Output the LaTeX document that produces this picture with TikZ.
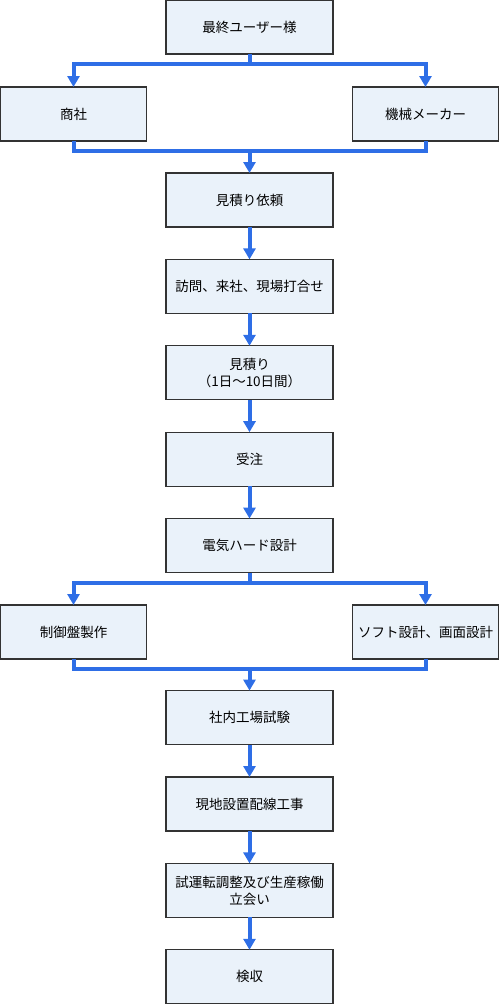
\documentclass[tikz,border=0pt]{standalone}
\usepackage{fontspec}
\newfontfamily\jpfont{Noto Sans CJK JP}
\usetikzlibrary{positioning,arrows.meta,calc}
\definecolor{boxfill}{RGB}{234,242,250}
\definecolor{flowblue}{RGB}{46,110,230}

\begin{document}
\begin{tikzpicture}[x=1pt,y=1pt,
    node distance=32.4pt,
    step box/.style={rectangle, minimum width=167pt, minimum height=54pt, outer sep=0pt, text centered, align=center, draw=black!80, line width=1.2pt, fill=boxfill, font=\jpfont\fontsize{13.5}{17}\selectfont},
    side box/.style={step box, minimum width=146pt},
    link/.style={draw=flowblue, line width=4pt},
    flow/.style={link, -{Triangle[width=12pt,length=11pt]}}]
    \useasboundingbox (0,0) rectangle (500,-1004);
    % top part
    \node (user) [step box] at (249.5,-27) {最終ユーザー様};
    \node (trader) [side box] at (73.5,-114) {商社};
    \node (maker) [side box] at (425.5,-114) {機械メーカー};
    \node (request) [step box] at (249.5,-200) {見積り依頼};
    \node (visit) [step box, below =of request] {訪問、来社、現場打合せ};
    \node (estimate) [step box, below =of visit] {見積り\\（1日～10日間）};
    \node (order) [step box, below =of estimate] {受注};
    \node (hardware) [step box, below =of order] {電気ハード設計};
    % parallel work
    \node (panel) [side box] at (73.5,-632) {制御盤製作};
    \node (software) [side box] at (425.5,-632) {ソフト設計、画面設計};
    \node (factorytest) [step box, below =118pt of hardware] {社内工場試験};
    \node (wiring) [step box, below =of factorytest] {現地設置配線工事};
    \node (trialrun) [step box, below =of wiring] {試運転調整及び生産稼働\\立会い};
    \node (acceptance) [step box, below =of trialrun] {検収};

    \coordinate (split1) at ($(user.south)+(0,-10)$);
    \coordinate (merge1) at ($(trader.south)+(176,-10)$);
    \coordinate (split2) at ($(hardware.south)+(0,-10)$);
    \coordinate (merge2) at ($(panel.south)+(176,-10)$);

    \draw [link] (user.south) -- (split1);
    \draw [flow] (split1) -| (trader.north);
    \draw [flow] (split1) -| (maker.north);
    \draw [link] (trader.south) |- (merge1) -| (maker.south);
    \draw [flow] (merge1) -- (request.north);
    \draw [flow] (request.south) -- (visit.north);
    \draw [flow] (visit.south) -- (estimate.north);
    \draw [flow] (estimate.south) -- (order.north);
    \draw [flow] (order.south) -- (hardware.north);
    \draw [link] (hardware.south) -- (split2);
    \draw [flow] (split2) -| (panel.north);
    \draw [flow] (split2) -| (software.north);
    \draw [link] (panel.south) |- (merge2) -| (software.south);
    \draw [flow] (merge2) -- (factorytest.north);
    \draw [flow] (factorytest.south) -- (wiring.north);
    \draw [flow] (wiring.south) -- (trialrun.north);
    \draw [flow] (trialrun.south) -- (acceptance.north);
\end{tikzpicture}
\end{document}
